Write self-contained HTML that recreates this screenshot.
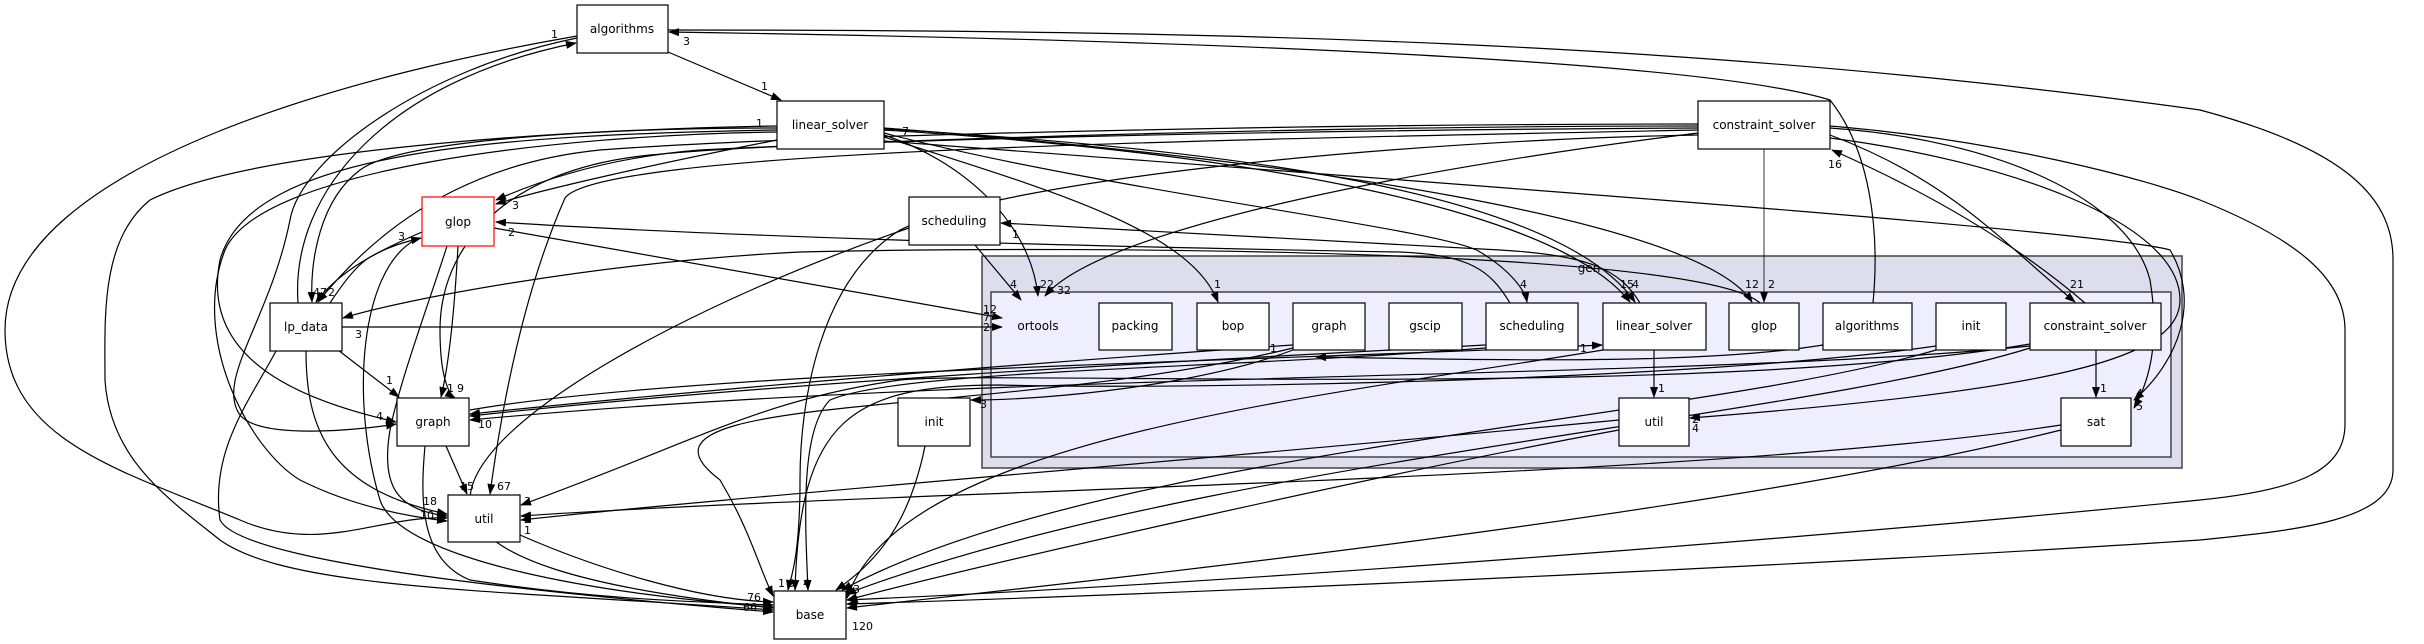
<!DOCTYPE html>
<html><head><meta charset="utf-8"><style>
html,body{margin:0;padding:0;background:#fff;}
svg{display:block;}
text{font-family:"DejaVu Sans","Liberation Sans",sans-serif;}
.n{font-size:12px;text-anchor:middle;}
.l{font-size:11px;}
</style></head><body>
<svg width="2424" height="644" viewBox="0 0 2424 644" xmlns="http://www.w3.org/2000/svg">
<defs>
<marker id="a" markerWidth="11" markerHeight="8" refX="10" refY="4" orient="auto" markerUnits="userSpaceOnUse">
<path d="M0,0 L11,4 L0,8 z" fill="#000"/></marker>
</defs>
<rect width="2424" height="644" fill="#fff"/>
<rect x="982" y="256" width="1200" height="212" fill="#ddddee" stroke="#444" stroke-width="1.5"/>
<rect x="991" y="292" width="1180" height="165" fill="#eeeeff" stroke="#444" stroke-width="1.5"/>
<text class="n" x="1589" y="272">gen</text>

<g fill="none" stroke="#000" stroke-width="1.2">
<path d="M668,52 L781,100" marker-end="url(#a)"/>
<path d="M577,36 C380,70 5,160 5,330 C5,440 120,470 240,520 C320,555 380,515 447,518" marker-end="url(#a)"/>
<path d="M298,303 C290,190 390,80 576,43" marker-end="url(#a)"/>
<path d="M577,38 C420,70 300,160 290,220 C270,320 215,380 240,415 C260,440 360,430 396,424" marker-end="url(#a)"/>
<path d="M668,30 C1200,30 1700,40 2200,110 C2350,150 2393,200 2393,260 L2393,470 C2393,520 2300,530 2200,540 C1900,560 1300,590 847,604" marker-end="url(#a)"/>
<path d="M1873,303 C1880,230 1870,150 1830,100 C1700,60 1200,40 669,32" marker-end="url(#a)"/>
<path d="M777,128 C600,128 400,140 360,170 C320,200 310,260 312,302" marker-end="url(#a)"/>
<path d="M777,130 C500,135 250,150 220,260 C200,360 300,400 396,422" marker-end="url(#a)"/>
<path d="M777,126 C550,130 250,150 150,200 C100,240 105,320 105,380 C110,460 170,500 220,540 C290,590 500,590 773,610" marker-end="url(#a)"/>
<path d="M777,132 C550,135 260,170 225,250 C190,340 250,450 300,480 C360,510 420,518 447,521" marker-end="url(#a)"/>
<path d="M777,140 C650,165 540,190 496,204" marker-end="url(#a)"/>
<path d="M884,135 C960,160 1030,220 1038,296" marker-end="url(#a)"/>
<path d="M884,137 C1050,190 1190,230 1218,302" marker-end="url(#a)"/>
<path d="M884,133 C1100,190 1450,230 1480,252 C1510,270 1525,290 1527,302" marker-end="url(#a)"/>
<path d="M884,130 C1200,150 1550,200 1630,302" marker-end="url(#a)"/>
<path d="M884,129 C1250,150 1560,195 1635,302" marker-end="url(#a)"/>
<path d="M884,128 C1300,160 1700,220 1752,302" marker-end="url(#a)"/>
<path d="M884,141 C1400,180 2100,230 2170,250 C2200,300 2180,360 2134,400" marker-end="url(#a)"/>
<path d="M1698,126 C1300,126 900,140 700,150 C600,158 530,185 496,200" marker-end="url(#a)"/>
<path d="M1698,124 C1300,124 800,135 600,150 C500,160 400,200 318,302" marker-end="url(#a)"/>
<path d="M1698,128 C1300,130 800,140 650,155 C500,170 440,250 440,330 C440,380 450,395 455,398" marker-end="url(#a)"/>
<path d="M1698,130 C1200,140 600,150 565,198 C520,300 500,420 490,494" marker-end="url(#a)"/>
<path d="M1698,133 C1400,170 1100,230 1045,296" marker-end="url(#a)"/>
<path d="M1698,135 C1400,140 1000,180 900,230 C820,280 800,400 800,480 C800,560 790,580 788,590" marker-end="url(#a)"/>
<path d="M1764,149 L1764,302" stroke-width="0.8" marker-end="url(#a)"/>
<path d="M1830,135 C1950,180 2000,240 2075,302" marker-end="url(#a)"/>
<path d="M2085,303 C2000,230 1900,180 1832,150" marker-end="url(#a)"/>
<path d="M1830,128 C2000,140 2130,200 2150,280 C2160,340 2150,380 2134,408" marker-end="url(#a)"/>
<path d="M1830,138 C2000,160 2180,220 2180,300 C2180,360 2050,390 1690,418" marker-end="url(#a)"/>
<path d="M1830,126 C2000,140 2150,180 2200,200 C2300,240 2345,280 2345,330 L2345,424 C2345,470 2300,490 2200,500 C1900,530 1300,580 847,600" marker-end="url(#a)"/>
<path d="M422,232 C380,250 340,270 316,302" marker-end="url(#a)"/>
<path d="M330,303 C345,280 360,262 372,256 C390,246 405,242 421,238" marker-end="url(#a)"/>
<path d="M458,246 C455,300 450,360 441,397" marker-end="url(#a)"/>
<path d="M447,246 C430,300 400,380 390,430 C380,490 400,510 447,516" marker-end="url(#a)"/>
<path d="M415,240 C360,270 350,400 380,500 C400,560 600,595 773,607" marker-end="url(#a)"/>
<path d="M494,228 L1002,318" marker-end="url(#a)"/>
<path d="M338,350 L399,397" marker-end="url(#a)"/>
<path d="M306,351 C306,430 330,490 447,514" marker-end="url(#a)"/>
<path d="M276,351 C250,400 210,450 220,520 C240,560 500,590 773,612" marker-end="url(#a)"/>
<path d="M342,327 L1002,327" marker-end="url(#a)"/>
<path d="M1760,303 C1700,250 1100,245 800,252 C600,262 400,300 343,318" marker-end="url(#a)"/>
<path d="M446,446 L467,494" marker-end="url(#a)"/>
<path d="M425,446 C420,500 420,560 470,580 C600,600 700,602 773,605" marker-end="url(#a)"/>
<path d="M520,535 C600,570 700,600 773,602" marker-end="url(#a)"/>
<path d="M909,228 C700,300 470,420 470,500 C470,560 600,590 773,608" marker-end="url(#a)"/>
<path d="M975,245 L1021,300" marker-end="url(#a)"/>
<path d="M1510,303 C1490,270 1470,255 1400,252 C1000,245 700,235 496,222" marker-end="url(#a)"/>
<path d="M1640,303 C1620,270 1590,255 1500,250 L1001,223" marker-end="url(#a)"/>
<path d="M1654,350 L1654,397" marker-end="url(#a)"/>
<path d="M2096,350 L2096,397" marker-end="url(#a)"/>
<path d="M1619,420 C1200,460 700,500 521,520" marker-end="url(#a)"/>
<path d="M1619,430 C1400,470 1000,560 847,600" marker-end="url(#a)"/>
<path d="M2061,425 C1700,480 900,490 521,516" marker-end="url(#a)"/>
<path d="M2061,430 C1700,520 1000,590 847,608" marker-end="url(#a)"/>
<path d="M925,446 C910,520 880,560 836,590" marker-end="url(#a)"/>
<path d="M1936,350 C1700,420 1100,450 842,590" marker-end="url(#a)"/>
<path d="M2030,348 C1800,420 1200,460 846,594" marker-end="url(#a)"/>
<path d="M1486,345 C1200,360 800,380 470,416" marker-end="url(#a)"/>
<path d="M1293,345 C1000,365 700,390 470,414" marker-end="url(#a)"/>
<path d="M2030,346 C1700,380 1000,370 470,420" marker-end="url(#a)"/>
<path d="M1293,350 C1200,385 1050,400 971,400" marker-end="url(#a)"/>
<path d="M470,410 C700,370 1300,360 1602,345" marker-end="url(#a)"/>
<path d="M1823,345 C1700,365 1500,360 1316,357" marker-end="url(#a)"/>
<path d="M1936,346 C1700,380 1200,390 1000,385 C850,385 800,420 795,590" marker-end="url(#a)"/>
<path d="M1486,348 C1200,370 900,370 830,400 C800,430 805,520 808,590" marker-end="url(#a)"/>
<path d="M2030,344 C1700,400 1000,370 900,380 C760,400 700,440 521,505" marker-end="url(#a)"/>
<path d="M1293,348 C1000,420 600,390 720,480 C750,530 760,570 773,596" marker-end="url(#a)"/>
<path d="M1603,350 C1300,400 900,440 847,598" marker-end="url(#a)"/>
</g>

<g stroke="#000" stroke-width="1.2" fill="#fff">
<rect x="577" y="5" width="91" height="48"/>
<rect x="777" y="101" width="107" height="48"/>
<rect x="422" y="197" width="72" height="49" stroke="#ff0000"/>
<rect x="909" y="197" width="91" height="48"/>
<rect x="1698" y="101" width="132" height="48"/>
<rect x="270" y="303" width="72" height="48"/>
<rect x="397" y="398" width="72" height="48"/>
<rect x="448" y="495" width="72" height="47"/>
<rect x="774" y="591" width="72" height="48"/>
<rect x="898" y="398" width="72" height="48"/>
<rect x="1099" y="303" width="73" height="47"/>
<rect x="1197" y="303" width="72" height="47"/>
<rect x="1293" y="303" width="72" height="47"/>
<rect x="1389" y="303" width="73" height="47"/>
<rect x="1486" y="303" width="92" height="47"/>
<rect x="1603" y="303" width="103" height="47"/>
<rect x="1729" y="303" width="70" height="47"/>
<rect x="1823" y="303" width="89" height="47"/>
<rect x="1936" y="303" width="70" height="47"/>
<rect x="2030" y="303" width="131" height="47"/>
<rect x="1619" y="398" width="70" height="48"/>
<rect x="2061" y="398" width="70" height="48"/>
</g>
<g class="n" fill="#000">
<text x="622" y="33">algorithms</text>
<text x="830" y="129">linear_solver</text>
<text x="458" y="226">glop</text>
<text x="954" y="225">scheduling</text>
<text x="1764" y="129">constraint_solver</text>
<text x="306" y="331">lp_data</text>
<text x="433" y="426">graph</text>
<text x="484" y="523">util</text>
<text x="810" y="619">base</text>
<text x="934" y="426">init</text>
<text x="1038" y="330">ortools</text>
<text x="1135" y="330">packing</text>
<text x="1233" y="330">bop</text>
<text x="1329" y="330">graph</text>
<text x="1425" y="330">gscip</text>
<text x="1532" y="330">scheduling</text>
<text x="1654" y="330">linear_solver</text>
<text x="1764" y="330">glop</text>
<text x="1867" y="330">algorithms</text>
<text x="1971" y="330">init</text>
<text x="2095" y="330">constraint_solver</text>
<text x="1654" y="426">util</text>
<text x="2096" y="426">sat</text>
</g>
<g class="l" fill="#000">
<text x="551" y="38">1</text><text x="683" y="45">3</text>
<text x="761" y="90">1</text><text x="756" y="127">1</text>
<text x="512" y="209">3</text><text x="508" y="236">2</text><text x="398" y="240">3</text>
<text x="313" y="296">4</text><text x="320" y="296">7</text><text x="328" y="296">2</text>
<text x="355" y="338">3</text><text x="386" y="384">1</text><text x="376" y="420">4</text>
<text x="447" y="392">1</text><text x="457" y="392">9</text><text x="478" y="428">10</text>
<text x="460" y="490">15</text><text x="497" y="490">67</text>
<text x="423" y="505">18</text><text x="420" y="519">10</text>
<text x="524" y="505">3</text><text x="524" y="523">2</text><text x="524" y="534">1</text>
<text x="747" y="601">76</text><text x="743" y="611">66</text>
<text x="778" y="587">1</text><text x="788" y="587">9</text><text x="803" y="587">4</text>
<text x="853" y="593">3</text><text x="852" y="605">6</text><text x="852" y="630">120</text>
<text x="902" y="135">7</text><text x="1012" y="238">1</text>
<text x="1010" y="288">4</text><text x="1040" y="288">22</text><text x="1057" y="294">32</text>
<text x="983" y="313">12</text><text x="983" y="321">7</text><text x="983" y="331">2</text>
<text x="1214" y="288">1</text><text x="1520" y="288">4</text>
<text x="1620" y="288">15</text><text x="1632" y="288">4</text>
<text x="1745" y="288">12</text><text x="1768" y="288">2</text>
<text x="2070" y="288">21</text><text x="1828" y="168">16</text>
<text x="1270" y="352">1</text><text x="1580" y="352">1</text>
<text x="980" y="408">3</text><text x="1658" y="392">1</text><text x="2100" y="392">1</text>
<text x="1692" y="423">2</text><text x="1692" y="432">4</text>
<text x="2136" y="397">4</text><text x="2136" y="410">5</text>
</g>
</svg>
</body></html>
